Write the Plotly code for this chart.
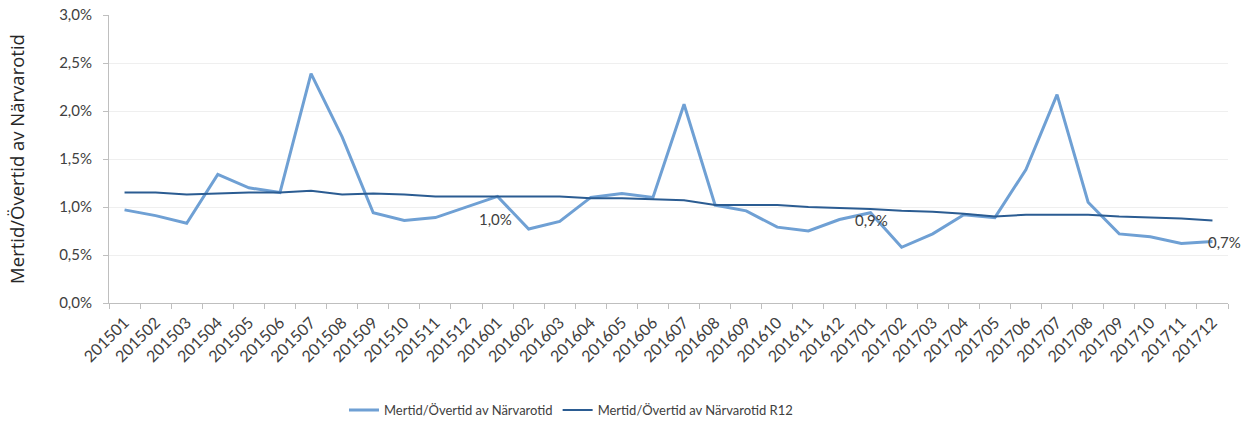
import plotly.graph_objects as go

months = ["201501","201502","201503","201504","201505","201506","201507","201508","201509","201510","201511","201512",
          "201601","201602","201603","201604","201605","201606","201607","201608","201609","201610","201611","201612",
          "201701","201702","201703","201704","201705","201706","201707","201708","201709","201710","201711","201712"]

monthly = [0.97,0.91,0.83,1.34,1.20,1.15,2.39,1.73,0.94,0.86,0.89,1.00,
           1.11,0.77,0.85,1.10,1.14,1.10,2.07,1.02,0.96,0.79,0.75,0.87,
           0.94,0.58,0.72,0.92,0.89,1.39,2.17,1.05,0.72,0.69,0.62,0.64]

r12 = [1.15,1.15,1.13,1.14,1.15,1.15,1.17,1.13,1.14,1.13,1.11,1.11,
       1.11,1.11,1.11,1.09,1.09,1.08,1.07,1.02,1.02,1.02,1.00,0.99,
       0.98,0.96,0.95,0.93,0.90,0.92,0.92,0.92,0.90,0.89,0.88,0.86]

label_months = ["201601", "201701", "201712"]
label_texts = ["1,0%", "0,9%", "0,7%"]

y_ticks = [0, 0.5, 1.0, 1.5, 2.0, 2.5, 3.0]
y_tick_text = ["0,0%", "0,5%", "1,0%", "1,5%", "2,0%", "2,5%", "3,0%"]

name1 = "Mertid/Övertid av Närvarotid"
name2 = "Mertid/Övertid av Närvarotid R12"

FONT = "Lato, Liberation Sans, sans-serif"

fig = go.Figure()
fig.add_trace(go.Scatter(x=months, y=monthly, mode="lines", name=name1,
                         line=dict(color="#6FA0D4", width=3)))
fig.add_trace(go.Scatter(x=months, y=r12, mode="lines", name=name2,
                         line=dict(color="#2B5C92", width=2)))

shifts = [(-2, -23), (1, -7), (12, 0)]
for m, t, (dx, dy) in zip(label_months, label_texts, shifts):
    i = months.index(m)
    fig.add_annotation(x=i, y=monthly[i], xref="x", yref="y", text=t, showarrow=False,
                       xshift=dx, yshift=dy,
                       font=dict(family=FONT, size=15, color="#404040"))

fig.update_layout(
    width=1252, height=423,
    margin=dict(l=109, r=24, t=15, b=120, autoexpand=False),
    paper_bgcolor="white", plot_bgcolor="white",
    font=dict(family=FONT, color="#595959"),
    showlegend=True,
    legend=dict(orientation="h", x=0.21, xanchor="left", y=-0.372, yanchor="middle",
                font=dict(size=13, color="#404040"), itemwidth=30, tracegroupgap=0),
    xaxis=dict(type="category", tickangle=-45, tickson="boundaries", ticks="outside",
               ticklen=5, tickcolor="#BFBFBF", showline=True, linecolor="#BFBFBF",
               linewidth=1, showgrid=False, tickfont=dict(size=16, color="#404040"),
               ticklabelstandoff=3,
               range=[-0.5, 35.5], automargin=False),
    yaxis=dict(range=[0, 3.0], tickvals=y_ticks, ticktext=y_tick_text, ticks="outside",
               ticklen=5, tickcolor="#BFBFBF", showline=True, linecolor="#BFBFBF",
               gridcolor="#EFEFEF", gridwidth=1, zeroline=False, automargin=False,
               ticklabelstandoff=8,
               tickfont=dict(size=15, color="#404040"),
               title=dict(text="Mertid/Övertid av Närvarotid", standoff=29,
                          font=dict(family="Open Sans, sans-serif", size=18.5, color="#262626"))),
)

fig.write_html("out.html", config={"displayModeBar": False},
               post_script="document.body.style.margin='0';document.body.style.overflow='hidden';")
